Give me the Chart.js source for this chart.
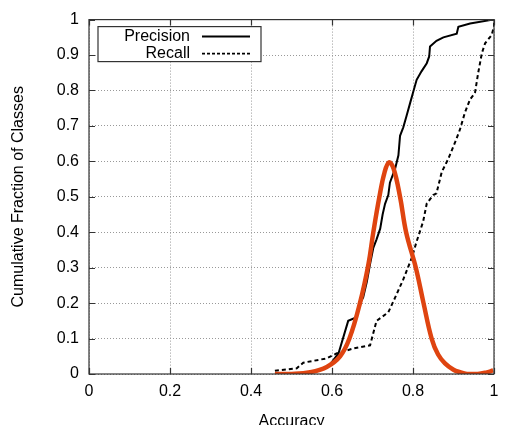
<!DOCTYPE html>
<html>
<head>
<meta charset="utf-8">
<script src="https://cdn.jsdelivr.net/npm/chart.js@4/dist/chart.umd.min.js"></script>
<style>
    html, body { margin: 0; padding: 0; background: #fff; }
    #wrap { width: 513px; height: 425px; }
</style>
</head>
<body>
<div id="wrap"><canvas id="accChart" width="513" height="425"></canvas></div>
<script>
// Values
const precisionX = [0.59, 0.60, 0.616, 0.64, 0.661, 0.665, 0.677, 0.686, 0.694, 0.702, 0.71, 0.719, 0.725, 0.731, 0.739, 0.743, 0.756, 0.764, 0.768, 0.776, 0.784, 0.793, 0.801, 0.809, 0.821, 0.834, 0.84, 0.842, 0.858, 0.875, 0.908, 0.912, 0.941, 0.998];
const precisionY = [0.02, 0.034, 0.058, 0.15, 0.16, 0.19, 0.216, 0.26, 0.31, 0.356, 0.38, 0.41, 0.45, 0.48, 0.505, 0.54, 0.58, 0.617, 0.672, 0.696, 0.728, 0.765, 0.798, 0.83, 0.854, 0.877, 0.896, 0.924, 0.94, 0.95, 0.96, 0.98, 0.989, 1.0];

const recallX = [0.459, 0.513, 0.529, 0.587, 0.611, 0.653, 0.694, 0.71, 0.739, 0.756, 0.776, 0.784, 0.797, 0.809, 0.825, 0.834, 0.85, 0.858, 0.871, 0.887, 0.904, 0.916, 0.928, 0.941, 0.953, 0.961, 0.97, 0.978, 0.994, 1.0, 1.0];
const recallY = [0.009, 0.016, 0.032, 0.044, 0.058, 0.072, 0.081, 0.15, 0.174, 0.216, 0.267, 0.29, 0.328, 0.374, 0.43, 0.481, 0.505, 0.51, 0.57, 0.607, 0.654, 0.69, 0.737, 0.775, 0.793, 0.85, 0.905, 0.933, 0.956, 0.98, 1.0];

const densityX = [0.459, 0.5, 0.546, 0.587, 0.62, 0.643, 0.669, 0.69, 0.702, 0.717, 0.73, 0.741, 0.752, 0.768, 0.783, 0.807, 0.826, 0.846, 0.862, 0.879, 0.9, 0.916, 0.933, 0.96, 0.98, 0.998];
const densityY = [0.0, 0.0, 0.005, 0.02, 0.05, 0.1, 0.2, 0.31, 0.4, 0.5, 0.57, 0.597, 0.58, 0.5, 0.4, 0.3, 0.2, 0.1, 0.055, 0.03, 0.012, 0.005, 0.0, 0.0, 0.004, 0.01];

const xTicks = [0, 0.2, 0.4, 0.6, 0.8, 1];
const yTicks = [0, 0.1, 0.2, 0.3, 0.4, 0.5, 0.6, 0.7, 0.8, 0.9, 1];

const seriesNames = ['Precision', 'Recall'];

const FONT = 'Liberation Sans, Arial, Helvetica, sans-serif';

function toPoints(xs, ys) {
    return xs.map((x, i) => ({ x: x, y: ys[i] }));
}

// gnuplot-like frame, inward ticks and boxed legend
const framePlugin = {
    id: 'frame',
    afterDraw(chart) {
        const { ctx, chartArea: a, scales } = chart;
        ctx.save();
        ctx.strokeStyle = '#333';
        ctx.lineWidth = 1.2;
        ctx.strokeRect(a.left, a.top, a.right - a.left, a.bottom - a.top);

        ctx.beginPath();
        xTicks.forEach(v => {
            const px = Math.round(scales.x.getPixelForValue(v)) + 0.5;
            ctx.moveTo(px, a.bottom); ctx.lineTo(px, a.bottom - 6);
            ctx.moveTo(px, a.top); ctx.lineTo(px, a.top + 6);
        });
        yTicks.forEach(v => {
            const py = Math.round(scales.y.getPixelForValue(v)) + 0.5;
            ctx.moveTo(a.left, py); ctx.lineTo(a.left + 6, py);
            ctx.moveTo(a.right, py); ctx.lineTo(a.right - 6, py);
        });
        ctx.stroke();

        // legend box
        const bx = a.left + 9, by = a.top + 7, bw = 163, bh = 35;
        ctx.fillStyle = '#fff';
        ctx.fillRect(bx, by, bw, bh);
        ctx.strokeStyle = '#333';
        ctx.lineWidth = 1.2;
        ctx.strokeRect(bx, by, bw, bh);

        ctx.font = '16px ' + FONT;
        ctx.fillStyle = '#000';
        ctx.textAlign = 'right';
        ctx.textBaseline = 'middle';
        const rows = [by + 10, by + 27];
        seriesNames.forEach((name, i) => {
            ctx.fillText(name, bx + 92, rows[i]);
            ctx.beginPath();
            ctx.strokeStyle = '#000';
            ctx.lineWidth = i === 0 ? 2 : 1.6;
            ctx.setLineDash(i === 0 ? [] : [3, 2]);
            ctx.moveTo(bx + 104, rows[i]);
            ctx.lineTo(bx + 152, rows[i]);
            ctx.stroke();
        });
        ctx.restore();
    }
};

const chart = new Chart(document.getElementById('accChart'), {
    type: 'scatter',
    data: {
        datasets: [
            {
                label: 'Distribution',
                data: toPoints(densityX, densityY),
                showLine: true,
                borderColor: '#DF4410',
                borderWidth: 4.5,
                pointRadius: 0,
                tension: 0.4,
                order: 0
            },
            {
                label: seriesNames[0],
                data: toPoints(precisionX, precisionY),
                showLine: true,
                borderColor: '#000',
                borderWidth: 2,
                pointRadius: 0,
                order: 1
            },
            {
                label: seriesNames[1],
                data: toPoints(recallX, recallY),
                showLine: true,
                borderColor: '#000',
                borderWidth: 2,
                borderDash: [4, 3],
                pointRadius: 0,
                order: 2
            }
        ]
    },
    options: {
        responsive: false,
        animation: false,
        layout: { padding: { top: 13, right: 19, left: 9, bottom: 0 } },
        plugins: {
            legend: { display: false },
            tooltip: { enabled: false }
        },
        scales: {
            x: {
                type: 'linear',
                min: 0,
                max: 1,
                afterBuildTicks: scale => { scale.ticks = xTicks.map(v => ({ value: v })); },
                afterFit: scale => { scale.height = 51; },
                border: { display: false, dash: [1, 2] },
                grid: {
                    color: '#999',
                    lineWidth: 1,
                    drawTicks: false
                },
                ticks: {
                    color: '#000',
                    padding: 8,
                    font: { family: FONT, size: 16 },
                    callback: v => String(v)
                },
                title: {
                    display: true,
                    text: 'Accuracy',
                    color: '#000',
                    font: { family: FONT, size: 16 },
                    padding: { top: 8, bottom: -6 }
                }
            },
            y: {
                type: 'linear',
                min: 0,
                max: 1,
                afterBuildTicks: scale => { scale.ticks = yTicks.map(v => ({ value: v })); },
                afterFit: scale => { scale.width = 80; },
                border: { display: false, dash: [1, 2] },
                grid: {
                    color: '#999',
                    lineWidth: 1,
                    drawTicks: false
                },
                ticks: {
                    color: '#000',
                    padding: 10,
                    font: { family: FONT, size: 16 },
                    callback: v => String(v)
                },
                title: {
                    display: true,
                    text: 'Cumulative Fraction of Classes',
                    color: '#000',
                    font: { family: FONT, size: 16 },
                    padding: { top: 0, bottom: 10 }
                }
            }
        }
    },
    plugins: [framePlugin]
});
</script>
</body>
</html>
